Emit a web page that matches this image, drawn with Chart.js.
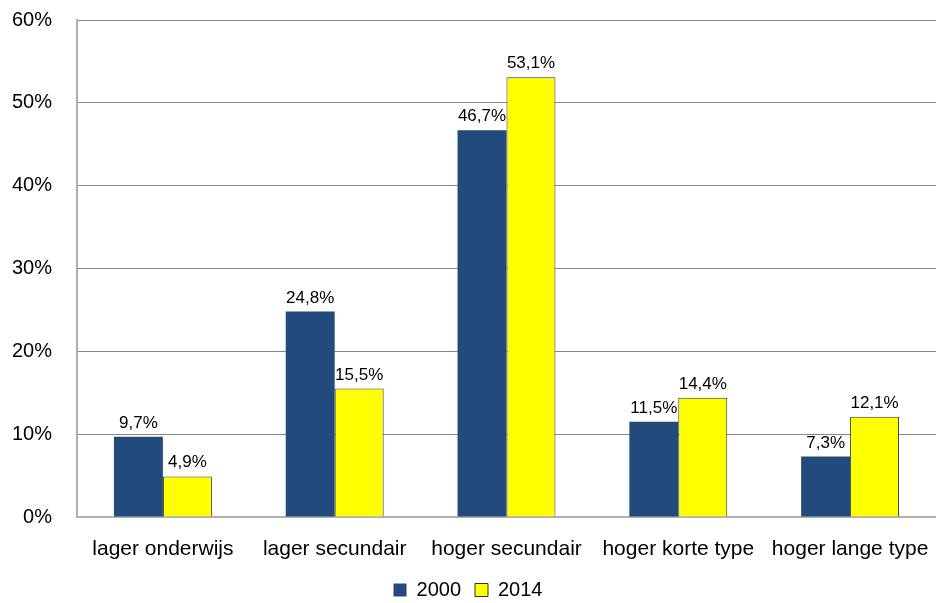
<!DOCTYPE html>
<html>
<head>
<meta charset="utf-8">
<script src="https://cdn.jsdelivr.net/npm/chart.js@4"></script>
<style>
  html, body { margin: 0; padding: 0; background: #fff; }
  #wrap { width: 936px; height: 603px; }
</style>
</head>
<body>
<div id="wrap"><canvas id="chart" width="936" height="603"></canvas></div>
<script>
const categorieen = ['lager onderwijs', 'lager secundair', 'hoger secundair', 'hoger korte type', 'hoger lange type'];
const waarden2000 = [9.7, 24.8, 46.7, 11.5, 7.3];
const waarden2014 = [4.9, 15.5, 53.1, 14.4, 12.1];
const yTicks = [0, 10, 20, 30, 40, 50, 60];

const FONT = "'Liberation Sans Narrow', 'Arial Narrow', 'Liberation Sans', Arial, sans-serif";

// labels boven de staven, komma als decimaalteken
const labelPlugin = {
  id: 'barLabels',
  afterDatasetsDraw(chart) {
    const ctx = chart.ctx;
    ctx.save();
    ctx.font = '17px ' + FONT;
    ctx.fillStyle = '#000';
    ctx.textAlign = 'center';
    ctx.textBaseline = 'alphabetic';
    chart.data.datasets.forEach((ds, i) => {
      chart.getDatasetMeta(i).data.forEach((bar, j) => {
        const txt = ds.data[j].toFixed(1).replace('.', ',') + '%';
        ctx.fillText(txt, bar.x, bar.y - 9);
      });
    });
    ctx.restore();
  }
};

new Chart(document.getElementById('chart'), {
  type: 'bar',
  data: {
    labels: categorieen,
    datasets: [
      { label: '2000', data: waarden2000, backgroundColor: '#224A7C', borderWidth: 0 },
      { label: '2014', data: waarden2014, backgroundColor: '#FFFF00', borderColor: '#333333', borderWidth: 1 }
    ]
  },
  options: {
    responsive: false,
    animation: false,
    layout: { padding: { top: 20, right: 0, left: 0, bottom: -7 } },
    datasets: { bar: { categoryPercentage: 0.57, barPercentage: 1.0 } },
    scales: {
      x: {
        grid: { display: true, drawOnChartArea: false, tickLength: 16, tickColor: 'rgba(0,0,0,0)' },
        border: { color: '#b0b0b0', width: 2 },
        ticks: { color: '#000', font: { family: FONT, size: 21, lineHeight: 1 }, padding: 6, maxRotation: 0 }
      },
      y: {
        min: 0, max: 60,
        afterBuildTicks: axis => { axis.ticks = yTicks.map(v => ({ value: v })); },
        afterFit: axis => { axis.width = 77; },
        grid: { color: '#888', tickLength: 25, tickColor: 'rgba(0,0,0,0)' },
        border: { color: '#b0b0b0', width: 2 },
        ticks: { color: '#000', font: { family: FONT, size: 20 }, padding: 0, callback: v => v + '%' }
      }
    },
    plugins: {
      legend: {
        position: 'bottom',
        labels: { color: '#000', font: { family: FONT, size: 20 }, boxWidth: 13, boxHeight: 13, padding: 14 }
      },
      tooltip: { enabled: false }
    }
  },
  plugins: [labelPlugin]
});
</script>
</body>
</html>
